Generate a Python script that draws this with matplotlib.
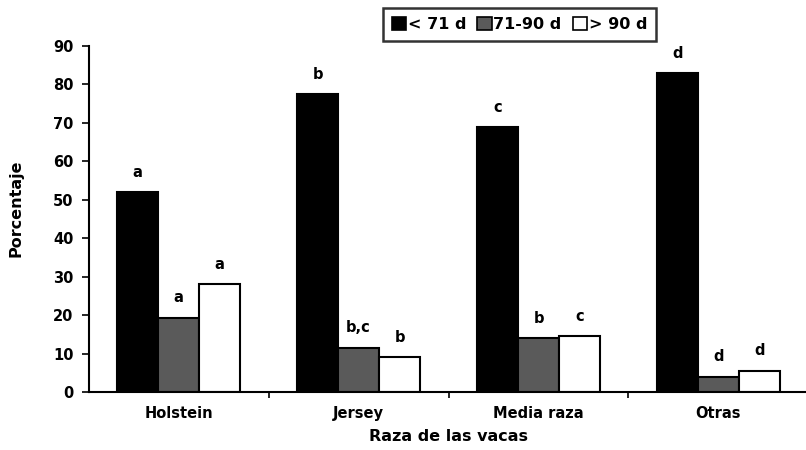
import matplotlib
matplotlib.use("Agg")
import matplotlib.pyplot as plt
import numpy as np
from matplotlib.patches import Patch

plt.rcParams['font.family'] = ['DejaVu Sans']
plt.rcParams['font.weight'] = 'bold'

categories = ["Holstein", "Jersey", "Media raza", "Otras"]
series_names = ["< 71 d", "71-90 d", "> 90 d"]
v_lt71 = [52, 77.5, 68.8, 83]
v_71_90 = [19.3, 11.5, 14, 4]
v_gt90 = [28, 9, 14.5, 5.5]
lab_lt71 = ["a", "b", "c", "d"]
lab_71_90 = ["a", "b,c", "b", "d"]
lab_gt90 = ["a", "b", "c", "d"]

colors = ["#000000", "#5a5a5a", "#ffffff"]

fig = plt.figure(figsize=(8.06, 4.5), dpi=100)
ax = fig.add_axes([0.110, 0.129, 0.893, 0.769])

x = np.arange(len(categories))
w = 0.228
series = [v_lt71, v_71_90, v_gt90]
labels = [lab_lt71, lab_71_90, lab_gt90]
for i, (vals, labs) in enumerate(zip(series, labels)):
    pos = x + (i - 1) * w
    ax.bar(pos, vals, width=w, color=colors[i], edgecolor="black", linewidth=1.5)
    for p, v, l in zip(pos, vals, labs):
        ax.text(p, v + 3.2, l, ha="center", va="bottom", fontsize=10.5, fontweight="bold")

ax.set_xlim(-0.5, 3.5)
ax.set_ylim(0, 90)
ax.set_yticks(np.arange(0, 91, 10))
ax.set_xticks(x)
ax.set_xticklabels(categories, fontsize=10.5, fontweight="bold")
ax.set_xticks(np.arange(0.5, 3.5, 1.0), minor=True)
ax.tick_params(axis="x", which="major", length=0, pad=10)
ax.tick_params(axis="x", which="minor", length=4, width=1.2, direction="out")
ax.tick_params(axis="y", length=5, width=1.2, labelsize=10.5, pad=6)
for t in ax.get_yticklabels():
    t.set_fontweight("bold")
for s in ["top", "right"]:
    ax.spines[s].set_visible(False)
ax.spines["left"].set_linewidth(1.5)
ax.spines["bottom"].set_linewidth(1.5)

ax.set_ylabel("Porcentaje", fontsize=11.5, fontweight="bold", labelpad=21)
ax.yaxis.label.set_y(0.53)
ax.set_xlabel("Raza de las vacas", fontsize=11.5, fontweight="bold", labelpad=6)

handles = [Patch(facecolor=c, edgecolor="black", linewidth=1.2) for c in colors]
leg = fig.legend(handles, series_names, loc="upper left", bbox_to_anchor=(0.475, 0.982),
                 borderaxespad=0,
                 ncol=3, frameon=True, fancybox=False, handlelength=0.9, handleheight=0.9,
                 handletextpad=0.1, columnspacing=0.7, borderpad=0.55,
                 prop={"weight": "bold", "size": 11.5})
leg.get_frame().set_edgecolor("black")
leg.get_frame().set_linewidth(1.8)

fig.savefig("out.png", dpi=100)
